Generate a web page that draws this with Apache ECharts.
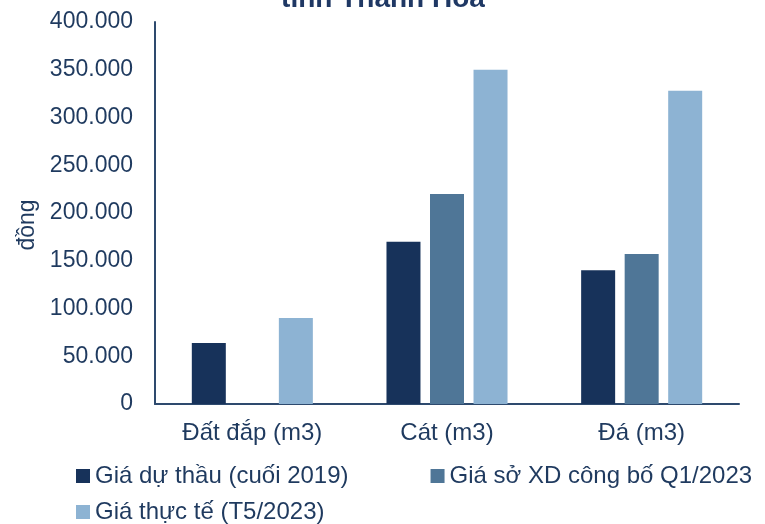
<!DOCTYPE html>
<html>
<head>
<meta charset="utf-8">
<script src="https://cdn.jsdelivr.net/npm/echarts@6/dist/echarts.min.js"></script>
<style>
  html, body { margin: 0; padding: 0; background: #fff; }
  #chart { width: 765px; height: 524px; }
</style>
</head>
<body>
<div id="chart"></div>
<script>
// data
var categories = ['Đất đắp (m3)', 'Cát (m3)', 'Đá (m3)'];
var seriesNames = ['Giá dự thầu (cuối 2019)', 'Giá sở XD công bố Q1/2023', 'Giá thực tế (T5/2023)'];
var bidPrice = [64000, 170000, 140000];
var deptPrice = [null, 220000, 157000];
var realPrice = [90000, 350000, 328000];
var yTicks = { min: 0, max: 400000, interval: 50000 };

var textColor = '#1F3A5F';
var axisColor = '#2E4A6E';
var colors = ['#17325A', '#4F7697', '#8DB3D3'];
var font = 'Liberation Sans, Arial, sans-serif';

function fmt(v) {
  // vietnamese thousands separator
  return String(v).replace(/\B(?=(\d{3})+(?!\d))/g, '.');
}

var chart = echarts.init(document.getElementById('chart'));

var legendText = { color: textColor, fontSize: 24, fontFamily: font };

var option = {
  animation: false,
  backgroundColor: '#fff',
  color: colors,
  grid: { left: 155, right: 26, top: 22, bottom: 120, containLabel: false },
  graphic: [{
    type: 'text',
    style: {
      text: 'tỉnh Thanh Hóa',
      x: 383, y: -15,
      font: 'bold 28px ' + font,
      fill: '#1F3864',
      textAlign: 'center'
    }
  }],
  legend: [{
    data: [seriesNames[0], seriesNames[1]],
    left: 76, top: 464, padding: 0,
    itemWidth: 14, itemHeight: 14, itemGap: 82,
    icon: 'rect',
    textStyle: legendText
  }, {
    data: [seriesNames[2]],
    left: 76, top: 500, padding: 0,
    itemWidth: 14, itemHeight: 14,
    icon: 'rect',
    textStyle: legendText
  }],
  xAxis: {
    type: 'category',
    data: categories,
    axisLine: { show: true, lineStyle: { color: axisColor, width: 2 } },
    axisTick: { show: false },
    axisLabel: { color: textColor, fontSize: 24, fontFamily: font, margin: 17 }
  },
  yAxis: {
    type: 'value',
    min: yTicks.min, max: yTicks.max, interval: yTicks.interval,
    name: 'đồng',
    nameLocation: 'middle',
    nameGap: 116,
    nameTextStyle: { color: textColor, fontSize: 23, fontFamily: font, padding: [0, 24, 0, 0] },
    axisLine: { show: true, lineStyle: { color: axisColor, width: 2 } },
    axisTick: { show: false },
    splitLine: { show: false },
    axisLabel: {
      color: textColor, fontSize: 23, fontFamily: font, margin: 22,
      padding: [5, 0, 0, 0],
      formatter: function (v) { return fmt(v); }
    }
  },
  series: [{
    name: seriesNames[0], type: 'bar', data: bidPrice,
    barWidth: 34, barGap: '28%'
  }, {
    name: seriesNames[1], type: 'bar', data: deptPrice,
    barWidth: 34, barGap: '28%'
  }, {
    name: seriesNames[2], type: 'bar', data: realPrice,
    barWidth: 34, barGap: '28%'
  }]
};

chart.setOption(option);
</script>
</body>
</html>
